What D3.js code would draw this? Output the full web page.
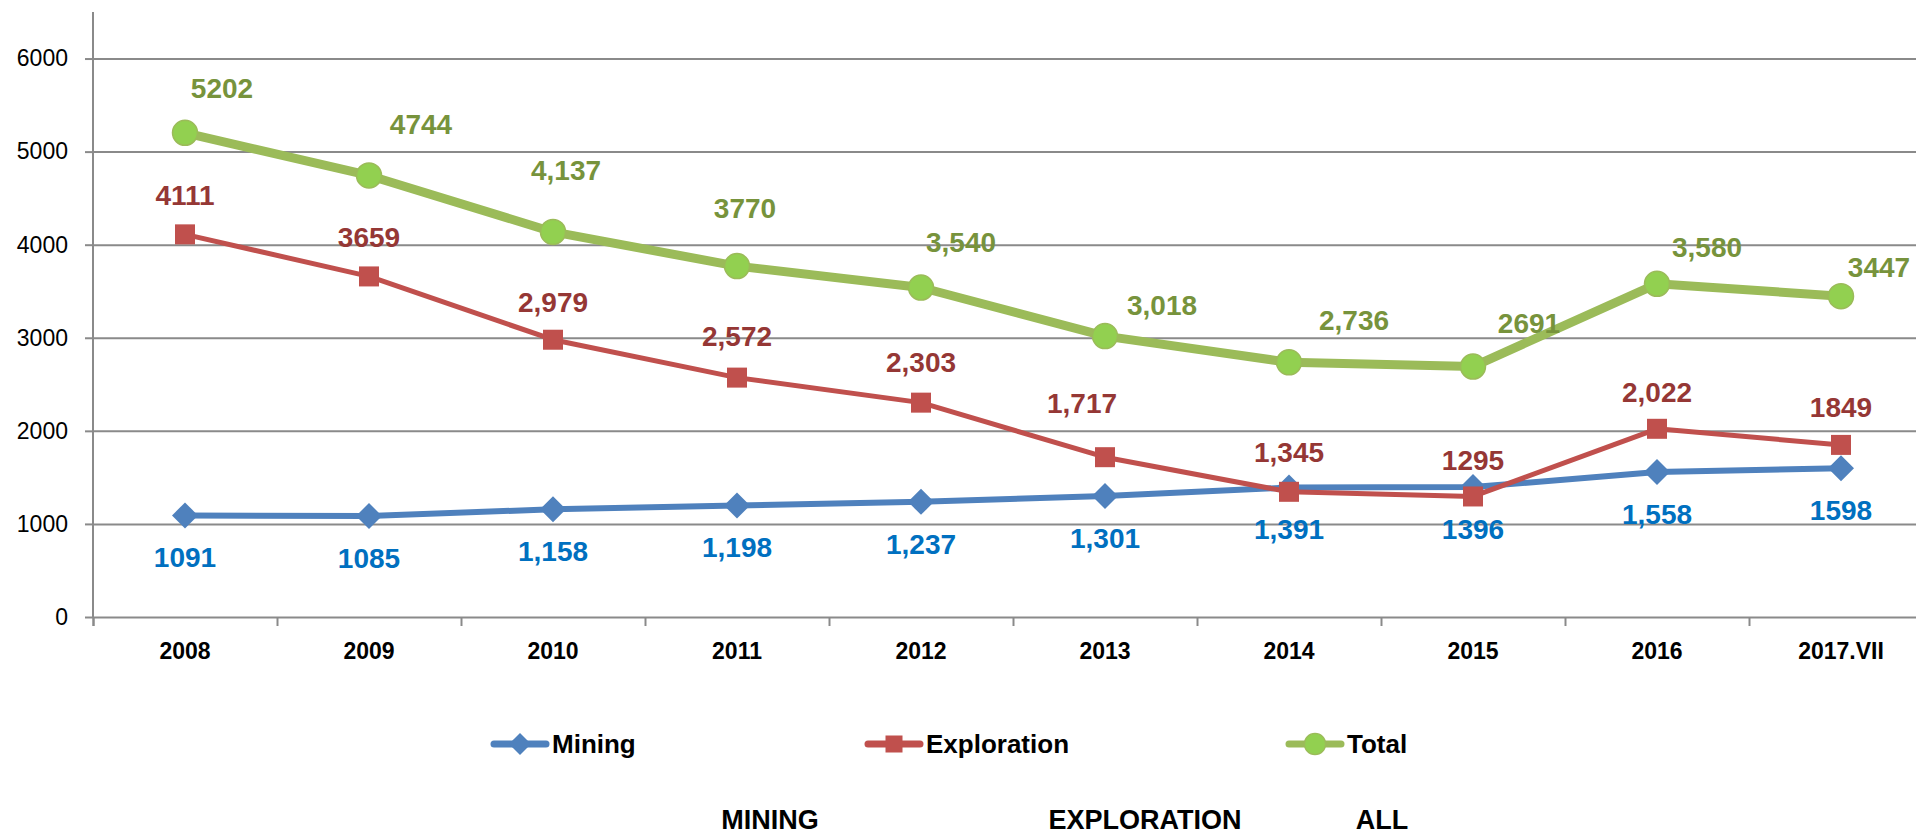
<!DOCTYPE html>
<html>
<head>
<meta charset="utf-8">
<script src="https://cdn.jsdelivr.net/npm/d3@7"></script>
<style>
  body { margin: 0; background: #fff; }
  svg { display: block; font-family: "Liberation Sans", Arial, sans-serif; }
</style>
</head>
<body>
<div id="chart"></div>
<script>
// data
var categories = ["2008", "2009", "2010", "2011", "2012", "2013", "2014", "2015", "2016", "2017.VII"];
var mining = [1091, 1085, 1158, 1198, 1237, 1301, 1391, 1396, 1558, 1598];
var exploration = [4111, 3659, 2979, 2572, 2303, 1717, 1345, 1295, 2022, 1849];
var total = [5202, 4744, 4137, 3770, 3540, 3018, 2736, 2691, 3580, 3447];

var miningLabels = ["1091", "1085", "1,158", "1,198", "1,237", "1,301", "1,391", "1396", "1,558", "1598"];
var explorationLabels = ["4111", "3659", "2,979", "2,572", "2,303", "1,717", "1,345", "1295", "2,022", "1849"];
var totalLabels = ["5202", "4744", "4,137", "3770", "3,540", "3,018", "2,736", "2691", "3,580", "3447"];

var yTicks = [0, 1000, 2000, 3000, 4000, 5000, 6000];
var legendNames = ["Mining", "Exploration", "Total"];
var footerLabels = ["MINING", "EXPLORATION", "ALL"];

// label placement (layout only, moved by hand in the original)
var totalLabelOffset = [[37,-45],[52,-51],[13,-62],[8,-58],[40,-45],[57,-31],[65,-42],[56,-43],[50,-37],[38,-29]];
var explorationLabelOffset = [[0,-39],[0,-39],[0,-38],[0,-41],[0,-40],[-23,-54],[0,-40],[0,-36],[0,-37],[0,-38]];

var W = 1916, H = 834;
var plotLeft = 93, plotBottom = 617, plotTop = 12, plotRight = 1933;

var svg = d3.select("#chart").append("svg")
    .attr("width", W)
    .attr("height", H);

var x = d3.scaleBand()
    .domain(categories)
    .range([plotLeft, plotRight])
    .padding(0);

var xEdge = d3.scaleLinear() // band edges, for the tick marks
    .domain([0, categories.length])
    .range([plotLeft, plotRight]);

var y = d3.scaleLinear()
    .domain([0, 6500])
    .range([plotBottom, plotTop]);

function cx(i) { return x(categories[i]) + x.bandwidth() / 2; }

// gridlines
svg.append("g")
    .attr("transform", "translate(" + plotLeft + ",0)")
    .call(d3.axisLeft(y).tickValues(yTicks.slice(1)).tickSize(-(plotRight - plotLeft)).tickFormat(""))
    .call(function (g) { g.select(".domain").remove(); })
    .selectAll("line")
    .attr("stroke", "#8a8a8a")
    .attr("stroke-width", 2);

// y axis
var yAxis = svg.append("g")
    .attr("transform", "translate(" + plotLeft + ",0)")
    .call(d3.axisLeft(y).tickValues(yTicks).tickSize(8).tickPadding(17).tickFormat(d3.format("d")));
yAxis.select(".domain").attr("stroke", "#8a8a8a").attr("stroke-width", 2)
    .attr("d", "M0," + plotTop + "V" + plotBottom);
yAxis.selectAll(".tick line").attr("stroke", "#8a8a8a").attr("stroke-width", 2);
yAxis.selectAll(".tick text")
    .attr("font-size", 23)
    .attr("font-family", "Liberation Sans, Arial, sans-serif")
    .attr("fill", "#000");

// x axis with ticks between categories
var xAxis = svg.append("g")
    .attr("transform", "translate(0," + plotBottom + ")")
    .call(d3.axisBottom(xEdge).tickValues(d3.range(categories.length + 1)).tickSize(9).tickFormat(""));
xAxis.select(".domain").attr("stroke", "#8a8a8a").attr("stroke-width", 2);
xAxis.selectAll(".tick line").attr("stroke", "#8a8a8a").attr("stroke-width", 2);

svg.append("g").selectAll("text")
    .data(categories)
    .enter().append("text")
    .attr("x", function (d) { return x(d) + x.bandwidth() / 2; })
    .attr("y", 651)
    .attr("dy", "0.35em")
    .attr("text-anchor", "middle")
    .attr("font-size", 23)
    .attr("font-weight", "bold")
    .text(String);

var line = d3.line()
    .x(function (d, i) { return cx(i); })
    .y(function (d) { return y(d); });

// series
var series = [
  { name: "Mining", values: mining, labels: miningLabels, color: "#4f81bd", labelColor: "#0070c0", width: 6, shape: "diamond" },
  { name: "Exploration", values: exploration, labels: explorationLabels, color: "#c0504d", labelColor: "#953735", width: 5, shape: "square" },
  { name: "Total", values: total, labels: totalLabels, color: "#9bbb59", labelColor: "#77933c", width: 9, shape: "circle" }
];

function drawMarker(g, shape, color) {
  if (shape === "diamond") {
    g.append("path").attr("d", "M0,-13L13,0L0,13L-13,0Z").attr("fill", color);
  } else if (shape === "square") {
    g.append("rect").attr("x", -10).attr("y", -10).attr("width", 20).attr("height", 20).attr("fill", color);
  } else {
    g.append("circle").attr("r", 12.5).attr("fill", "#92d050").attr("stroke", "#9bbb59").attr("stroke-width", 1.5);
  }
}

series.forEach(function (s) {
  svg.append("path")
      .datum(s.values)
      .attr("d", line)
      .attr("fill", "none")
      .attr("stroke", s.color)
      .attr("stroke-width", s.width)
      .attr("stroke-linejoin", "round");

  svg.append("g").selectAll("g")
      .data(s.values)
      .enter().append("g")
      .attr("transform", function (d, i) { return "translate(" + cx(i) + "," + y(d) + ")"; })
      .each(function () { drawMarker(d3.select(this), s.shape, s.color); });
});

// data labels
function addLabels(s, offsets) {
  svg.append("g").selectAll("text")
      .data(s.values)
      .enter().append("text")
      .attr("x", function (d, i) { return cx(i) + offsets(i)[0]; })
      .attr("y", function (d, i) { return y(d) + offsets(i)[1]; })
      .attr("dy", "0.35em")
      .attr("text-anchor", "middle")
      .attr("font-size", 28)
      .attr("font-weight", "bold")
      .attr("fill", s.labelColor)
      .text(function (d, i) { return s.labels[i]; });
}
addLabels(series[0], function () { return [0, 42]; });
addLabels(series[1], function (i) { return explorationLabelOffset[i]; });
addLabels(series[2], function (i) { return totalLabelOffset[i]; });

// legend
var legendX = [491, 865, 1286];
var legend = svg.append("g").selectAll("g")
    .data(series)
    .enter().append("g")
    .attr("transform", function (d, i) { return "translate(" + legendX[i] + ",744)"; });
legend.append("line")
    .attr("x1", 3).attr("x2", 55)
    .attr("stroke", function (d) { return d.color; })
    .attr("stroke-width", 7)
    .attr("stroke-linecap", "round");
legend.each(function (d) {
  var m = d3.select(this).append("g").attr("transform", "translate(29,0) scale(0.85)");
  drawMarker(m, d.shape, d.color);
});
legend.append("text")
    .attr("x", 61)
    .attr("dy", "0.35em")
    .attr("font-size", 26)
    .attr("font-weight", "bold")
    .text(function (d, i) { return legendNames[i]; });

// footer words under the legend
var footerX = [770, 1145, 1382];
svg.append("g").selectAll("text")
    .data(footerLabels)
    .enter().append("text")
    .attr("x", function (d, i) { return footerX[i]; })
    .attr("y", 820)
    .attr("dy", "0.35em")
    .attr("text-anchor", "middle")
    .attr("font-size", 27)
    .attr("font-weight", "bold")
    .text(String);
</script>
</body>
</html>
